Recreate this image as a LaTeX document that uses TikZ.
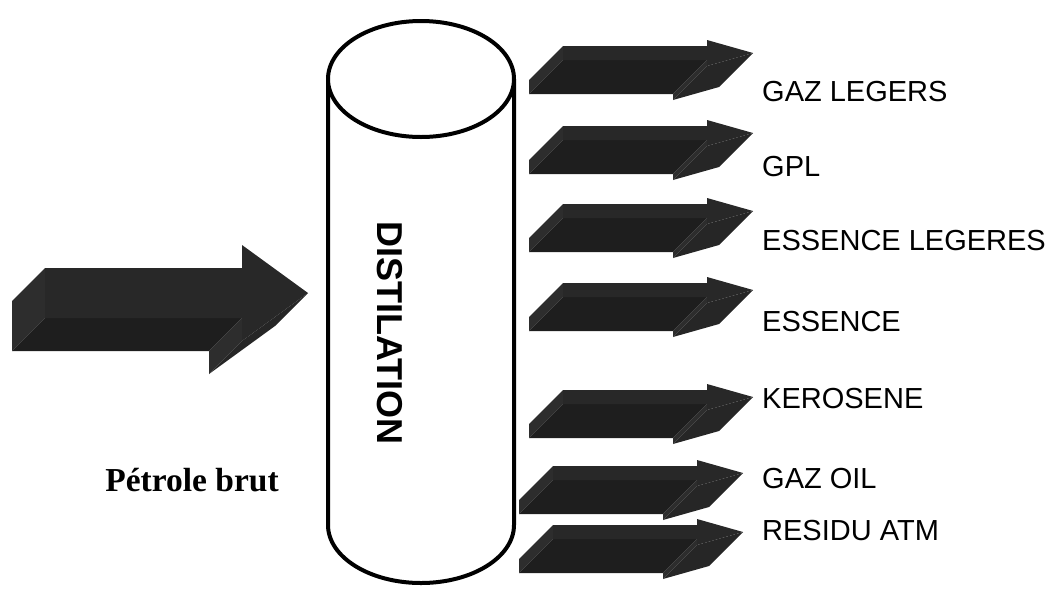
\documentclass[tikz,border=0pt]{standalone}
\usepackage{fontspec}
\setmainfont{Liberation Sans}
\newfontfamily\serifface{Liberation Serif}

\definecolor{slabtop}{HTML}{282828}
\definecolor{slabside}{HTML}{1E1E1E}
\definecolor{slabend}{HTML}{2D2D2D}
\definecolor{slabhead}{HTML}{262626}

% Extruded block arrow pointing right, seen from above-left.
% #1 left x, #2 centre y, #3 end of shaft x, #4 tip x,
% #5 half shaft height, #6 half head height, #7 extrusion depth
\newcommand{\slabarrow}[7]{%
  \fill[slabend]  (#1,#2-#5) -- (#1,#2+#5) -- (#1-#7,#2+#5+#7) -- (#1-#7,#2-#5+#7) -- cycle;
  \fill[slabside] (#1,#2+#5) -- (#3,#2+#5) -- (#3-#7,#2+#5+#7) -- (#1-#7,#2+#5+#7) -- cycle;
  \fill[slabend]  (#3,#2+#5) -- (#3,#2+#6) -- (#3-#7,#2+#6+#7) -- (#3-#7,#2+#5+#7) -- cycle;
  \fill[slabhead] (#3,#2+#6) -- (#4,#2) -- (#4-#7,#2+#7) -- (#3-#7,#2+#6+#7) -- cycle;
  \fill[slabtop]  (#1,#2-#5) -- (#3,#2-#5) -- (#3,#2-#6) -- (#4,#2) -- (#3,#2+#6) -- (#3,#2+#5) -- (#1,#2+#5) -- cycle;
}

\tikzset{
  product/.style={anchor=west, inner sep=0pt, font=\fontsize{29}{30}\selectfont},
  column/.style={line width=4pt, draw=black},
}

\begin{document}
\begin{tikzpicture}[x=1pt, y=-1pt]
  \useasboundingbox (0,0) rectangle (1049,590);

  % distillation column
  \draw[column] (328,79) -- (328,525)
    arc[start angle=180, end angle=360, x radius=93pt, y radius=58pt] -- (514,79);
  \draw[column, fill=white] (421,79) ellipse[x radius=93pt, y radius=58pt];
  \node[rotate=-90, inner sep=0pt, font=\bfseries\fontsize{36}{36}\selectfont] (dist) at (390,333) {DISTILATION};

  % crude oil feed
  \slabarrow{45}{293}{242}{308}{25}{48}{33}
  \node[inner sep=0pt, font=\serifface\bfseries\fontsize{33.5}{34}\selectfont] (brut) at (192,480) {Pétrole brut};

  % product draw-offs
  \slabarrow{563}{53}{707}{753}{7}{13}{34}
  \slabarrow{563}{133}{707}{753}{7}{13}{34}
  \slabarrow{563}{211}{707}{753}{7}{13}{34}
  \slabarrow{563}{290}{707}{753}{7}{13}{34}
  \slabarrow{563}{397}{707}{753}{7}{13}{34}
  \slabarrow{553}{473}{697}{743}{7}{13}{34}
  \slabarrow{553}{532}{697}{743}{7}{13}{34}

  \node[product] (p1) at (762,92)  {GAZ LEGERS};
  \node[product] (p2) at (762,167) {GPL};
  \node[product] (p3) at (762,241) {ESSENCE LEGERES};
  \node[product] (p4) at (762,322) {ESSENCE};
  \node[product] (p5) at (762,399) {KEROSENE};
  \node[product] (p6) at (762,479) {GAZ OIL};
  \node[product] (p7) at (762,531) {RESIDU ATM};
\end{tikzpicture}
\end{document}
